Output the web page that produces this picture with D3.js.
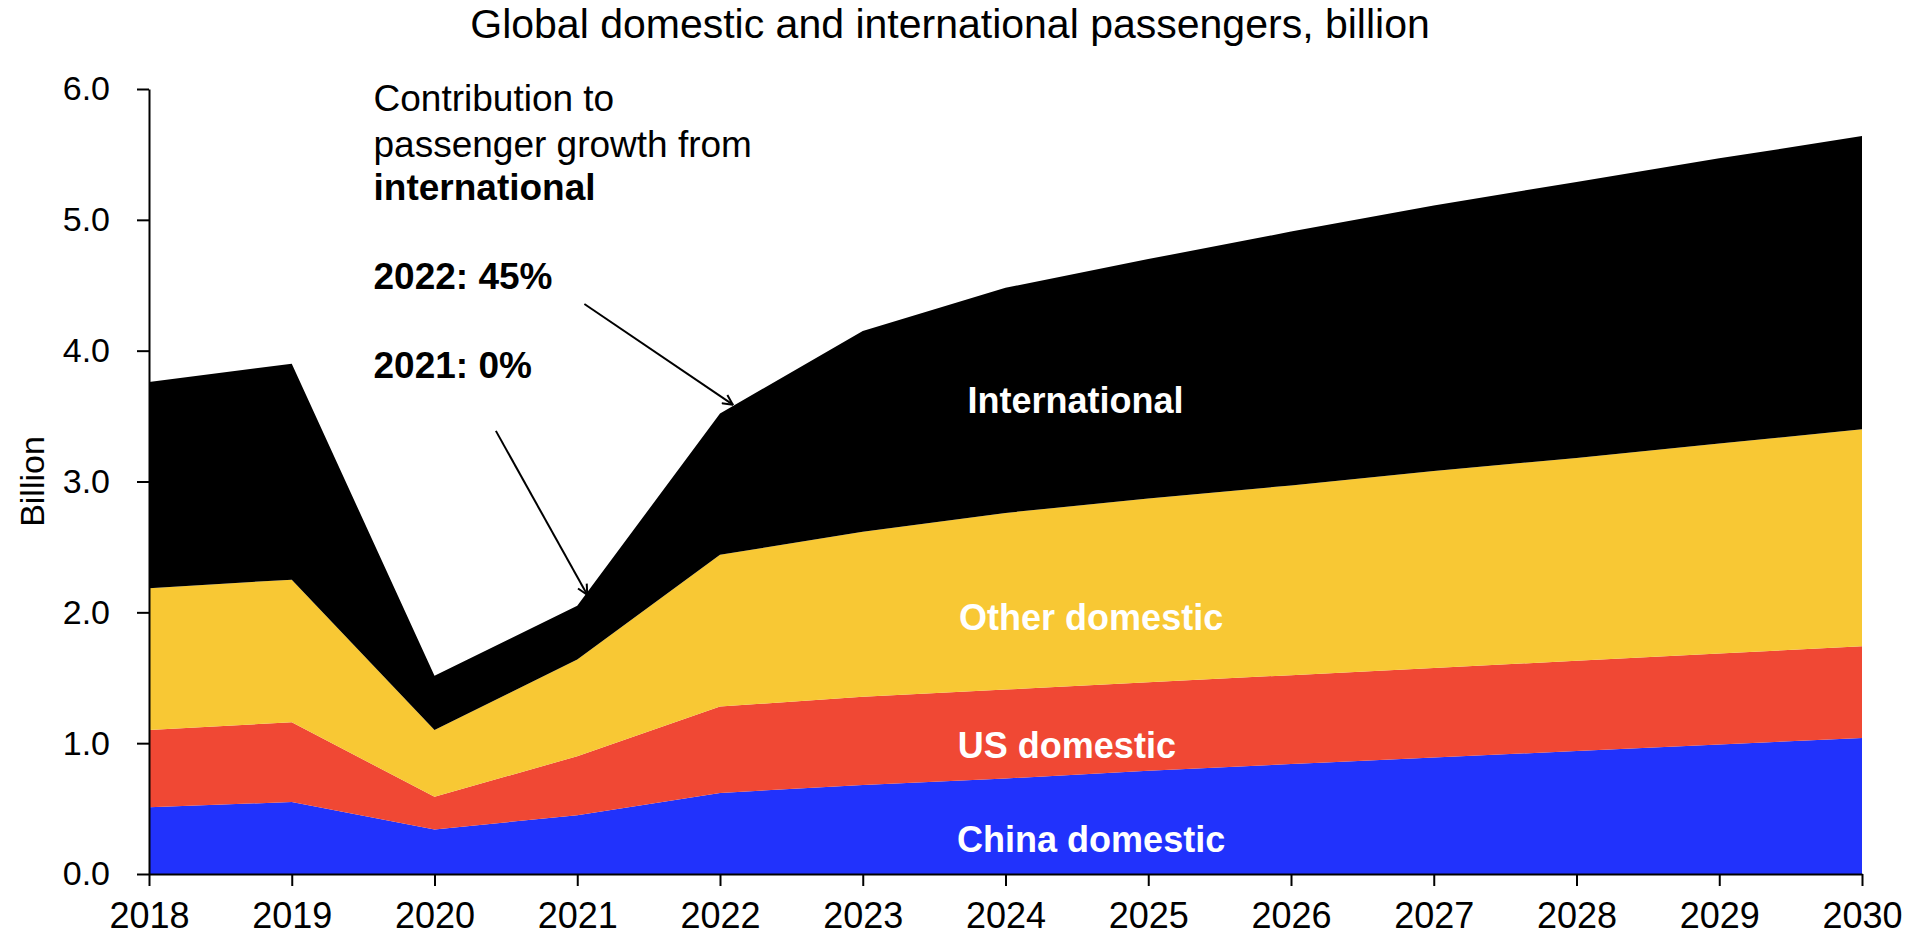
<!DOCTYPE html>
<html>
<head>
<meta charset="utf-8">
<script src="https://cdn.jsdelivr.net/npm/d3@7"></script>
<style>
    body { margin: 0; background: #fff; }
    svg { display: block; font-family: "Liberation Sans", Arial, sans-serif; }
</style>
</head>
<body>
<div id="chart"></div>
<script>
// Years on the x axis
const years = [2018, 2019, 2020, 2021, 2022, 2023, 2024, 2025, 2026, 2027, 2028, 2029, 2030];

// Passengers, billion (stacked bottom to top)
const chinaDomestic = [0.51, 0.55, 0.34, 0.45, 0.62, 0.68, 0.73, 0.79, 0.84, 0.89, 0.94, 0.99, 1.04];
const usDomestic = [0.59, 0.61, 0.25, 0.45, 0.66, 0.675, 0.68, 0.675, 0.68, 0.685, 0.69, 0.695, 0.70];
const otherDomestic = [1.085, 1.09, 0.51, 0.74, 1.16, 1.26, 1.35, 1.405, 1.45, 1.505, 1.55, 1.605, 1.66];
const international = [1.575, 1.65, 0.415, 0.41, 1.08, 1.535, 1.72, 1.83, 1.94, 2.03, 2.11, 2.18, 2.24];

const seriesKeys = ["china", "us", "other", "intl"];
const seriesNames = ["China domestic", "US domestic", "Other domestic", "International"];
const seriesColors = ["#2132FC", "#F04834", "#F8C834", "#000000"];

const yTicks = [0, 1, 2, 3, 4, 5, 6];

// Build rows for d3.stack
const rows = years.map((y, i) => ({
    year: y,
    china: chinaDomestic[i],
    us: usDomestic[i],
    other: otherDomestic[i],
    intl: international[i]
}));

const width = 1913;
const height = 943;
const margin = { top: 89, right: 51, bottom: 69, left: 149 };

const svg = d3.select("#chart")
    .append("svg")
    .attr("width", width)
    .attr("height", height);

const x = d3.scaleLinear()
    .domain([2018, 2030])
    .range([margin.left, width - margin.right]);

const y = d3.scaleLinear()
    .domain([0, 6])
    .range([height - margin.bottom, margin.top]);

// Stacked areas
const stacked = d3.stack().keys(seriesKeys)(rows);

const area = d3.area()
    .x(d => x(d.data.year))
    .y0(d => y(d[0]))
    .y1(d => y(d[1]));

svg.append("g")
    .selectAll("path")
    .data(stacked)
    .enter()
    .append("path")
    .attr("d", area)
    .style("fill", (d, i) => seriesColors[i]);

// Y axis
const yAxis = svg.append("g")
    .attr("transform", `translate(${margin.left},0)`)
    .call(d3.axisLeft(y)
        .tickValues(yTicks)
        .tickFormat(d3.format(".1f"))
        .tickSize(12)
        .tickSizeOuter(0)
        .tickPadding(27));

// X axis
const xAxis = svg.append("g")
    .attr("transform", `translate(0,${height - margin.bottom})`)
    .call(d3.axisBottom(x)
        .tickValues(years)
        .tickFormat(d3.format("d"))
        .tickSize(12)
        .tickSizeOuter(0)
        .tickPadding(16));

[yAxis, xAxis].forEach(ax => {
    ax.selectAll("path, line").style("stroke", "#000").style("stroke-width", 2);
    ax.selectAll("text")
        .style("font-family", "'Liberation Sans', Arial, sans-serif")
        .style("fill", "#000");
});
yAxis.selectAll("text").style("font-size", "34px");
xAxis.selectAll("text").style("font-size", "36px");

// Y axis title
svg.append("text")
    .attr("transform", `translate(44,${y(3.0)}) rotate(-90)`)
    .attr("text-anchor", "middle")
    .style("font-size", "34px")
    .text("Billion");

// Chart title
svg.append("text")
    .attr("x", 950)
    .attr("y", 38)
    .attr("text-anchor", "middle")
    .style("font-size", "41px")
    .text("Global domestic and international passengers, billion");

// Series labels inside the areas
const areaLabels = [
    { text: seriesNames[3], year: 2024.49, value: 3.524 },
    { text: seriesNames[2], year: 2024.6, value: 1.866 },
    { text: seriesNames[1], year: 2024.43, value: 0.888 },
    { text: seriesNames[0], year: 2024.6, value: 0.171 }
];

svg.append("g")
    .selectAll("text")
    .data(areaLabels)
    .enter()
    .append("text")
    .attr("x", d => x(d.year))
    .attr("y", d => y(d.value))
    .attr("text-anchor", "middle")
    .style("font-size", "36px")
    .style("font-weight", "bold")
    .style("fill", "#fff")
    .text(d => d.text);

// Annotation text block
const noteLines = [
    { text: "Contribution to", value: 5.83, bold: false },
    { text: "passenger growth from", value: 5.48, bold: false },
    { text: "international", value: 5.152, bold: true },
    { text: "2022: 45%", value: 4.469, bold: true },
    { text: "2021: 0%", value: 3.789, bold: true }
];

svg.append("g")
    .selectAll("text")
    .data(noteLines)
    .enter()
    .append("text")
    .attr("x", x(2019.573))
    .attr("y", d => y(d.value))
    .style("font-size", "37px")
    .style("font-weight", d => d.bold ? "bold" : "normal")
    .text(d => d.text);

// Arrows pointing at the international band
svg.append("defs")
    .append("marker")
    .attr("id", "arrow")
    .attr("viewBox", "0 0 12 12")
    .attr("refX", 11)
    .attr("refY", 6)
    .attr("markerWidth", 12)
    .attr("markerHeight", 12)
    .attr("markerUnits", "userSpaceOnUse")
    .attr("orient", "auto")
    .append("path")
    .attr("d", "M1,1 L11,6 L1,11")
    .style("fill", "none")
    .style("stroke", "#000")
    .style("stroke-width", 2);

const arrows = [
    { x1: 2021.05, y1: 4.357, x2: 2022.09, y2: 3.587 },
    { x1: 2020.43, y1: 3.387, x2: 2021.07, y2: 2.134 }
];

svg.append("g")
    .selectAll("line")
    .data(arrows)
    .enter()
    .append("line")
    .attr("x1", d => x(d.x1))
    .attr("y1", d => y(d.y1))
    .attr("x2", d => x(d.x2))
    .attr("y2", d => y(d.y2))
    .style("stroke", "#000")
    .style("stroke-width", 2)
    .attr("marker-end", "url(#arrow)");
</script>
</body>
</html>
